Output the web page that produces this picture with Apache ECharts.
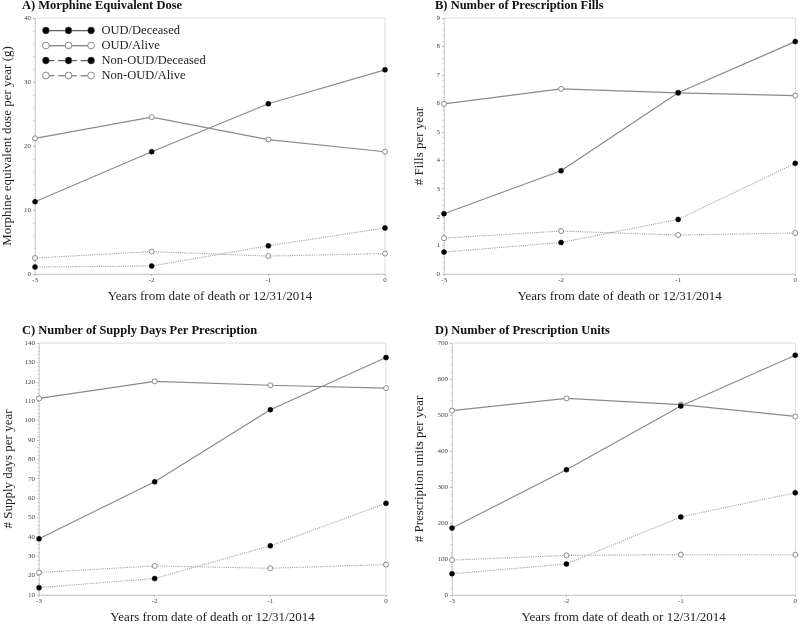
<!DOCTYPE html>
<html><head><meta charset="utf-8">
<script src="https://cdn.jsdelivr.net/npm/echarts@6/dist/echarts.min.js"></script>
<style>html,body{margin:0;padding:0;background:#fff}#c{width:800px;height:625px}</style>
</head><body><div id="c"></div>
<script>
const xYears = ['-3', '-2', '-1', '0'];
const seriesNames = ['OUD/Deceased', 'OUD/Alive', 'Non-OUD/Deceased', 'Non-OUD/Alive'];
const panelTitles = ['A) Morphine Equivalent Dose', 'B) Number of Prescription Fills', 'C) Number of Supply Days Per Prescription', 'D) Number of Prescription Units'];
const yNames = ['Morphine equivalent dose per year (g)', '# Fills per year', '# Supply days per year', '# Prescription units per year'];
const xName = 'Years from date of death or 12/31/2014';
// A) Morphine equivalent dose
const medOudDeceased = [11.3, 19.1, 26.6, 31.9];
const medOudAlive = [21.2, 24.5, 21.0, 19.1];
const medNonOudDeceased = [1.1, 1.25, 4.4, 7.2];
const medNonOudAlive = [2.5, 3.5, 2.8, 3.2];
// B) Fills
const fillsOudDeceased = [2.12, 3.63, 6.37, 8.17];
const fillsOudAlive = [5.98, 6.51, 6.37, 6.27];
const fillsNonOudDeceased = [0.77, 1.11, 1.92, 3.89];
const fillsNonOudAlive = [1.26, 1.51, 1.37, 1.44];
// C) Supply days
const daysOudDeceased = [39.0, 68.4, 105.6, 132.5];
const daysOudAlive = [111.4, 120.2, 118.2, 116.7];
const daysNonOudDeceased = [13.8, 18.5, 35.4, 57.3];
const daysNonOudAlive = [21.6, 25.0, 23.8, 25.7];
// D) Units
const unitsOudDeceased = [186, 348, 525, 666];
const unitsOudAlive = [512, 546, 529, 496];
const unitsNonOudDeceased = [59, 86, 217, 284];
const unitsNonOudAlive = [97, 110, 112, 112];
// y-axis ranges
const yMin = [0, 0, 10, 0];
const yMax = [40, 9, 140, 700];
const yInterval = [10, 1, 10, 100];

const panelData = [
  [medOudDeceased, medOudAlive, medNonOudDeceased, medNonOudAlive],
  [fillsOudDeceased, fillsOudAlive, fillsNonOudDeceased, fillsNonOudAlive],
  [daysOudDeceased, daysOudAlive, daysNonOudDeceased, daysNonOudAlive],
  [unitsOudDeceased, unitsOudAlive, unitsNonOudDeceased, unitsNonOudAlive]
];

const SERIF = 'Liberation Serif';
const grids = [
  {left: 35, top: 18, width: 350, height: 256},
  {left: 444, top: 18, width: 354, height: 256},
  {left: 39, top: 343, width: 347, height: 254},
  {left: 452, top: 343, width: 346, height: 253}
];
const titlePos = [{left: 22, top: -1}, {left: 435, top: -1}, {left: 22, top: 324}, {left: 435, top: 324}];
const yNameGap = [21, 18, 24, 26];

function circ(cx, cy, r) {
  return 'M' + (cx - r) + ' ' + cy + ' A' + r + ' ' + r + ' 0 1 0 ' + (cx + r) + ' ' + cy + ' A' + r + ' ' + r + ' 0 1 0 ' + (cx - r) + ' ' + cy + ' Z ';
}
function seg(x1, x2) { return 'M' + x1 + ' 5 L' + x2 + ' 5 L' + x2 + ' 5.4 L' + x1 + ' 5.4 Z '; }
function legendIcon(dashed) {
  let p = circ(4, 5, 3.3) + circ(26, 5, 3.3) + circ(48, 5, 3.3);
  if (!dashed) {
    p += seg(7.3, 22.7) + seg(29.3, 44.7);
  } else {
    p += seg(7.3, 12) + seg(16, 22.7) + seg(29.3, 34) + seg(38, 44.7);
  }
  return 'path://' + p;
}

const GRAYLINE = '#8a8a8a';
const series = [];
for (let g = 0; g < 4; g++) {
  for (let s = 0; s < 4; s++) {
    const deceased = (s % 2 === 0);
    const oud = s < 2;
    series.push({
      name: seriesNames[s], type: 'line', xAxisIndex: g, yAxisIndex: g,
      data: panelData[g][s], symbol: 'circle', symbolSize: 5, animation: false,
      lineStyle: {color: oud ? GRAYLINE : '#a0a0a0', width: oud ? 1.2 : 1.1, type: oud ? 'solid' : 'dotted'},
      itemStyle: deceased ? {color: '#000', borderColor: '#000', borderWidth: 0.5}
                          : {color: '#fff', borderColor: '#8a8a8a', borderWidth: 1},
      z: deceased ? 3 : 2
    });
  }
}

const option = {
  backgroundColor: '#fff',
  animation: false,
  title: panelTitles.map((t, i) => ({
    text: t, left: titlePos[i].left, top: titlePos[i].top, padding: 0,
    textStyle: {fontFamily: SERIF, fontWeight: 'bold', fontSize: 12.5, color: '#111'}
  })),
  legend: {
    left: 42, top: 24, padding: 0, orient: 'vertical', itemWidth: 52, itemHeight: 10, itemGap: 2,
    textStyle: {fontFamily: SERIF, fontSize: 12.5, lineHeight: 10, color: '#222', padding: [0, 0, 0, 2]},
    data: seriesNames.map((n, i) => ({
      name: n, icon: legendIcon(i >= 2),
      itemStyle: (i % 2 === 0) ? {color: '#000', borderColor: '#555', borderWidth: 0.6}
                               : {color: '#fff', borderColor: '#8a8a8a', borderWidth: 1}
    }))
  },
  grid: grids.map(g => Object.assign({show: true, borderColor: '#dcdcdc', borderWidth: 1, backgroundColor: '#fff'}, g)),
  xAxis: grids.map((g, i) => ({
    type: 'category', gridIndex: i, data: xYears, boundaryGap: false,
    name: xName, nameLocation: 'middle', nameGap: 16,
    nameTextStyle: {fontFamily: SERIF, fontSize: 13, color: '#222'},
    axisLine: {lineStyle: {color: '#cfcfcf'}},
    axisTick: {show: true, length: 2, lineStyle: {color: '#bbb'}},
    axisLabel: {fontFamily: SERIF, fontSize: 7, color: '#444', margin: 3},
    splitLine: {show: false}
  })),
  yAxis: grids.map((g, i) => ({
    type: 'value', gridIndex: i, min: yMin[i], max: yMax[i], interval: yInterval[i],
    name: yNames[i], nameLocation: 'middle', nameGap: yNameGap[i],
    nameTextStyle: {fontFamily: SERIF, fontSize: 13, color: '#222'},
    axisLine: {show: true, lineStyle: {color: '#d0d0d0', type: 'dotted'}},
    axisTick: {show: true, length: 2, lineStyle: {color: '#bbb'}},
    minorTick: {show: true, splitNumber: 5, length: 1.5, lineStyle: {color: '#ccc'}},
    axisLabel: {fontFamily: SERIF, fontSize: 7, color: '#444', margin: 4},
    splitLine: {show: false}
  })),
  series: series
};
const chart = echarts.init(document.getElementById('c'), null, {renderer: 'canvas'});
chart.setOption(option);
</script></body></html>
